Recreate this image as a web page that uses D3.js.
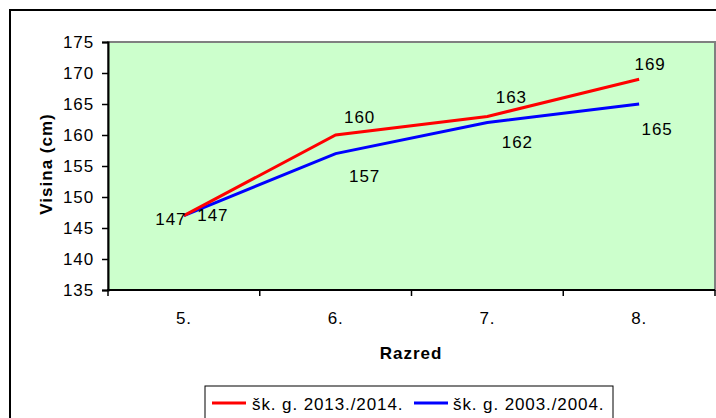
<!DOCTYPE html>
<html>
<head>
<meta charset="utf-8">
<script src="https://cdn.jsdelivr.net/npm/d3@7"></script>
<style>
  body { margin: 0; background: #fff; }
  svg { display: block; }
  svg text { font-family: "Liberation Sans", Arial, sans-serif; letter-spacing: 0.9px; fill: #000; }
  svg text.title { letter-spacing: 1px; font-weight: bold; }
</style>
</head>
<body>
<div id="chart"></div>
<script>
// chart data
const razredi = ["5.", "6.", "7.", "8."];
const visina2013 = [147, 160, 163, 169];
const visina2003 = [147, 157, 162, 165];
const yTicks = [135, 140, 145, 150, 155, 160, 165, 170, 175];
const seriesNames = ["šk. g. 2013./2014.", "šk. g. 2003./2004."];

// where the value labels sit next to their points (px), as placed in the original
const labelShift2013 = [[-13, 3], [24, -18], [24, -19], [11, -15]];
const labelShift2003 = [[29, -1], [29, 22], [30, 19], [18, 25]];

function drawChart() {
    const width = 716, height = 418;
    const plot = { left: 108, right: 715, top: 42, bottom: 290 };
    const fontSize = 17;

    const svg = d3.select("#chart")
        .append("svg")
        .attr("width", width)
        .attr("height", height);

    // outer chart frame (runs off the right and bottom edge)
    svg.append("path")
        .attr("d", `M10,${height + 5} L10,10 L${width + 5},10`)
        .attr("fill", "none")
        .attr("stroke", "#000")
        .attr("stroke-width", 2);

    const x = d3.scaleBand()
        .domain(razredi)
        .range([plot.left, plot.right]);

    const y = d3.scaleLinear()
        .domain([135, 175])
        .range([plot.bottom, plot.top]);

    // green plot area with gray border
    svg.append("rect")
        .attr("x", plot.left)
        .attr("y", plot.top)
        .attr("width", plot.right - plot.left)
        .attr("height", plot.bottom - plot.top)
        .attr("fill", "#ccffcc")
        .attr("stroke", "#808080")
        .attr("stroke-width", 2);

    // y axis
    const yAxis = svg.append("g")
        .attr("transform", `translate(${plot.left},0)`)
        .call(d3.axisLeft(y).tickValues(yTicks).tickSize(6).tickPadding(8));
    yAxis.select(".domain").attr("stroke", "#000").attr("stroke-width", 2);
    yAxis.selectAll(".tick line").attr("stroke", "#000").attr("stroke-width", 1.5);
    yAxis.selectAll(".tick text").attr("font-size", fontSize);

    // x axis: labels centred in bands, tick marks between categories
    const xAxis = svg.append("g")
        .attr("transform", `translate(0,${plot.bottom})`)
        .call(d3.axisBottom(x).tickSize(0).tickPadding(22));
    xAxis.select(".domain").remove();
    xAxis.selectAll(".tick text").attr("font-size", fontSize);

    const edges = razredi.map(d => x(d)).concat([x(razredi[razredi.length - 1]) + x.bandwidth()]);
    svg.append("g")
        .selectAll("line")
        .data(edges)
        .enter()
        .append("line")
        .attr("x1", d => d).attr("x2", d => d)
        .attr("y1", plot.bottom).attr("y2", plot.bottom + 6)
        .attr("stroke", "#000")
        .attr("stroke-width", 1.5);

    svg.append("line")
        .attr("x1", plot.left - 1).attr("x2", plot.right)
        .attr("y1", plot.bottom).attr("y2", plot.bottom)
        .attr("stroke", "#000")
        .attr("stroke-width", 2);

    // axis titles
    svg.append("text")
        .attr("class", "title")
        .attr("x", 411)
        .attr("y", 359)
        .attr("text-anchor", "middle")
        .attr("font-size", 17)
        .text("Razred");

    svg.append("text")
        .attr("class", "title")
        .attr("transform", "translate(52,164) rotate(-90)")
        .attr("text-anchor", "middle")
        .attr("font-size", 17)
        .text("Visina (cm)");

    // lines
    const cx = d => x(d) + x.bandwidth() / 2;
    const series = [
        { values: visina2013, color: "#ff0000", shift: labelShift2013 },
        { values: visina2003, color: "#0000ff", shift: labelShift2003 }
    ];

    const line = d3.line()
        .x((d, i) => cx(razredi[i]))
        .y(d => y(d));

    // draw blue first so red sits on top like the original
    series.slice().reverse().forEach(s => {
        svg.append("path")
            .datum(s.values)
            .attr("d", line)
            .attr("fill", "none")
            .attr("stroke", s.color)
            .attr("stroke-width", 3);
    });

    // value labels
    series.forEach(s => {
        svg.append("g")
            .selectAll("text")
            .data(s.values)
            .enter()
            .append("text")
            .attr("x", (d, i) => cx(razredi[i]) + s.shift[i][0])
            .attr("y", (d, i) => y(d) + s.shift[i][1])
            .attr("dy", "0.35em")
            .attr("text-anchor", "middle")
            .attr("font-size", fontSize)
            .text(d => d);
    });

    // legend
    const legend = svg.append("g");
    legend.append("rect")
        .attr("x", 205)
        .attr("y", 386)
        .attr("width", 408)
        .attr("height", 34)
        .attr("fill", "#fff")
        .attr("stroke", "#000")
        .attr("stroke-width", 1);

    const legendX = [[212, 252], [414, 453]];
    series.forEach((s, i) => {
        legend.append("line")
            .attr("x1", legendX[i][0]).attr("x2", legendX[i][0] + 34)
            .attr("y1", 403).attr("y2", 403)
            .attr("stroke", s.color)
            .attr("stroke-width", 3);
        legend.append("text")
            .attr("x", legendX[i][1])
            .attr("y", 410)
            .attr("font-size", fontSize)
            .text(seriesNames[i]);
    });
}

document.addEventListener("DOMContentLoaded", drawChart);
</script>
</body>
</html>
